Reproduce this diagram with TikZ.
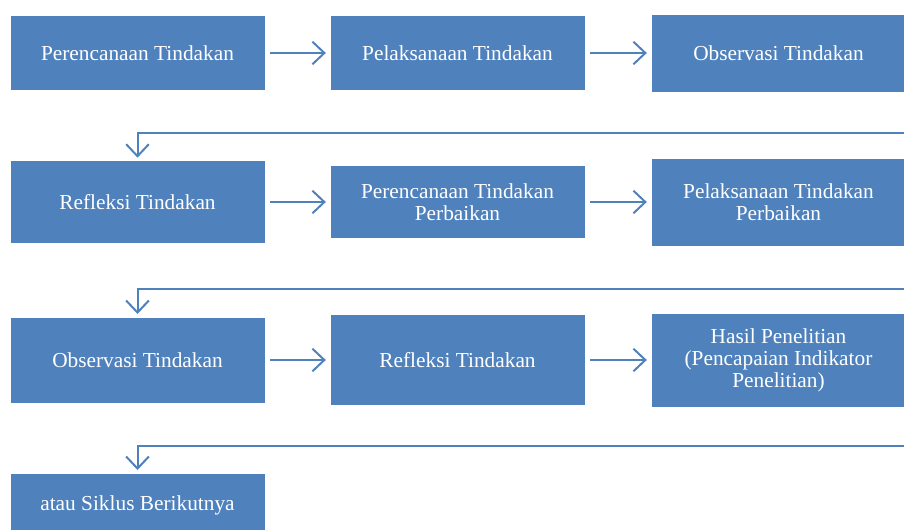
\documentclass[tikz,border=0pt]{standalone}
\usepackage{fontspec}
\setmainfont{Liberation Serif}
\usepackage{tikz}
\usetikzlibrary{arrows.meta,positioning}
\definecolor{ptkblue}{HTML}{4F81BD}
\tikzset{
  >={Straight Barb[length=9pt,width=17pt,line width=1.5pt]},
  % kotak
  tahap/.style={rectangle,draw=white,line width=0.5pt,fill=ptkblue,text=white,
                minimum width=191pt,inner sep=2pt,align=center,
                font=\fontsize{16}{16.5}\selectfont},
  % panah
  lanjut/.style={->,draw=ptkblue,line width=1.5pt,shorten <=3.75pt,shorten >=3pt},
  balik/.style={->,draw=ptkblue,line width=1.5pt,shorten >=2pt},
}
\begin{document}
\begin{tikzpicture}[x=0.75pt,y=-0.75pt]
\useasboundingbox (0,0) rectangle (904,530);
\clip (0,0) rectangle (904,530);
  \node[tahap,minimum height=56pt] (p1) at (137.5,53) {Perencanaan Tindakan};
  \node[tahap,minimum height=56pt] (l1) at (457.5,53) {Pelaksanaan Tindakan};
  \node[tahap,minimum height=58.5pt] (o1) at (778.5,53) {Observasi Tindakan};
  \node[tahap,minimum height=62pt] (r1) at (137.5,202) {Refleksi Tindakan};
  \node[tahap,minimum height=55pt] (p2) at (457.5,202) {Perencanaan Tindakan\\Perbaikan};
  \node[tahap,minimum height=66pt] (l2) at (778.5,202) {Pelaksanaan Tindakan\\Perbaikan};
  \node[tahap,minimum height=64.5pt] (o2) at (137.5,360) {Observasi Tindakan};
  \node[tahap,minimum height=68pt] (r2) at (457.5,360) {Refleksi Tindakan};
  \node[tahap,minimum height=70.5pt] (hp) at (778.5,360) {Hasil Penelitian\\(Pencapaian Indikator\\Penelitian)};
  \node[tahap,minimum height=48pt] (sb) at (137.5,505) {atau Siklus Berikutnya};
  \coordinate (e1) at (906,133);
  \coordinate (e2) at (906,289);
  \coordinate (e3) at (906,446);
  \draw[lanjut] (p1) -- (l1);
  \draw[lanjut] (l1) -- (o1);
  \draw[balik] (e1) -| (r1.north);
  \draw[lanjut] (r1) -- (p2);
  \draw[lanjut] (p2) -- (l2);
  \draw[balik] (e2) -| (o2.north);
  \draw[lanjut] (o2) -- (r2);
  \draw[lanjut] (r2) -- (hp);
  \draw[balik] (e3) -| (sb.north);
\end{tikzpicture}
\end{document}
